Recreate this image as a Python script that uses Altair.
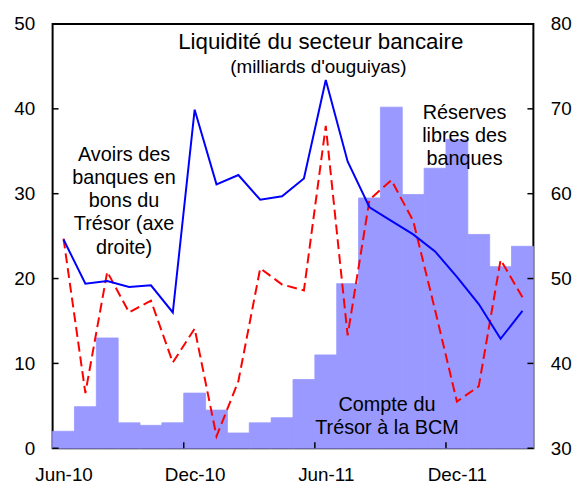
import altair as alt
import pandas as pd

# ---- data ----
months = ['Jun-10', 'Jul-10', 'Aug-10', 'Sep-10', 'Oct-10', 'Nov-10', 'Dec-10',
          'Jan-11', 'Feb-11', 'Mar-11', 'Apr-11', 'May-11', 'Jun-11', 'Jul-11',
          'Aug-11', 'Sep-11', 'Oct-11', 'Nov-11', 'Dec-11', 'Jan-12', 'Feb-12', 'Mar-12']
compte_tresor = [2.0, 4.9, 13.0, 3.0, 2.7, 3.0, 6.5, 4.5, 1.8, 3.0, 3.6, 8.1,
                 11.0, 19.4, 29.5, 40.2, 29.9, 33.0, 36.4, 25.2, 21.4, 23.8]
reserves_libres = [24.7, 6.5, 20.8, 16.0, 17.4, 10.1, 14.1, 1.4, 7.9, 21.2, 19.3, 18.6,
                   38.0, 13.3, 29.3, 31.6, 26.8, 16.3, 5.5, 7.3, 22.2, 17.8]
avoirs_bons = [54.6, 49.4, 49.7, 49.0, 49.2, 46.0, 69.9, 61.1, 62.2, 59.3, 59.7, 61.8,
               73.4, 63.8, 58.4, 56.8, 55.2, 53.2, 50.2, 47.0, 42.9, 46.2]
tick_labels = ['Jun-10', 'Dec-10', 'Jun-11', 'Dec-11']
left_ticks = [0, 10, 20, 30, 40, 50]
right_ticks = [30, 40, 50, 60, 70, 80]

df = pd.DataFrame({
    'i': list(range(len(months))),
    'month': months,
    'compte': compte_tresor,
    'reserves': reserves_libres,
    'avoirs': avoirs_bons,
})

W, H = 485, 428
FONT = 'Liberation Sans'
BAR = '#9999FF'

label_positions = [months.index(m) for m in tick_labels]
label_expr = '[' + ','.join("'%s'" % t for t in tick_labels) + '][datum.value/6]'
xs = alt.Scale(domain=[-0.5, len(months) - 0.5], nice=False, zero=False)
xaxis = alt.Axis(values=label_positions, labelExpr=label_expr, ticks=False, domain=False,
                 grid=False, title=None, labelFont=FONT, labelFontSize=19,
                 labelColor='black', labelPadding=18)
ysL = alt.Scale(domain=[0, 50], nice=False, zero=False)
yaxisL = alt.Axis(values=left_ticks, ticks=False, domain=False, grid=False, title=None,
                  labelFont=FONT, labelFontSize=19, labelColor='black', labelPadding=18)
ysR = alt.Scale(domain=[30, 80], nice=False, zero=False)
yaxisR = alt.Axis(orient='right', values=right_ticks, ticks=False, domain=False, grid=False,
                  title=None, labelFont=FONT, labelFontSize=19, labelColor='black',
                  labelPadding=17)

bars = alt.Chart(df).transform_calculate(
    x0='datum.i - 0.5', x1='datum.i + 0.5'
).mark_rect(color=BAR, stroke=BAR, strokeWidth=0.8).encode(
    x=alt.X('x0:Q', scale=xs, axis=xaxis),
    x2='x1:Q',
    y=alt.Y('compte:Q', scale=ysL, axis=yaxisL),
    y2=alt.datum(0),
)

red = alt.Chart(df).mark_line(color='#FF0000', strokeWidth=2, strokeDash=[10, 5]).encode(
    x=alt.X('i:Q', scale=xs, axis=xaxis),
    y=alt.Y('reserves:Q', scale=ysL, axis=yaxisL),
)

# inward ticks
tk = pd.DataFrame({'v': left_ticks})
lt = alt.Chart(tk).mark_rule(color='black', strokeWidth=1.5).encode(
    y=alt.Y('v:Q', scale=ysL, axis=yaxisL), x=alt.value(0), x2=alt.value(6))
rt = alt.Chart(tk).mark_rule(color='black', strokeWidth=1.5).encode(
    y=alt.Y('v:Q', scale=ysL, axis=yaxisL), x=alt.value(W - 6), x2=alt.value(W))
bt = alt.Chart(pd.DataFrame({'t': [p - 0.5 for p in label_positions[1:]]})).mark_rule(
    color='black', strokeWidth=1.5).encode(
    x=alt.X('t:Q', scale=xs, axis=xaxis), y=alt.value(H), y2=alt.value(H - 6))

# text annotations (data coordinates)
def block(x, y0, lines, step):
    return pd.DataFrame({'x': [x] * len(lines),
                         'y': [y0 - k * step for k in range(len(lines))],
                         'text': lines})

ann = pd.concat([
    block(2.77, 33.9, ['Avoirs des', 'banques en', 'bons du', 'Trésor (axe', 'droite)'], 2.74),
    block(18.35, 38.8, ['Réserves', 'libres des', 'banques'], 2.70),
    block(14.8, 4.36, ['Compte du', 'Trésor à la BCM'], 2.73),
])

def text_layer(data, size):
    return alt.Chart(data).mark_text(font=FONT, fontSize=size, color='black',
                                     align='center', baseline='alphabetic').encode(
        x=alt.X('x:Q', scale=xs, axis=xaxis),
        y=alt.Y('y:Q', scale=ysL, axis=yaxisL),
        text='text:N')

texts = text_layer(ann, 20)
title = text_layer(pd.DataFrame({'x': [11.77], 'y': [47.1],
                                 'text': ['Liquidité du secteur bancaire']}), 22.5)
subtitle = text_layer(pd.DataFrame({'x': [11.66], 'y': [44.2],
                                    'text': ["(milliards d'ouguiyas)"]}), 19)

left = alt.layer(bars, red, lt, rt, bt, texts, title, subtitle)

blue = alt.Chart(df).mark_line(color='#0000FF', strokeWidth=2).encode(
    x=alt.X('i:Q', scale=xs, axis=xaxis),
    y=alt.Y('avoirs:Q', scale=ysR, axis=yaxisR),
)

chart = alt.layer(left, blue).resolve_scale(y='independent').properties(
    width=W, height=H, padding={'left': 5, 'top': 5, 'right': 5, 'bottom': 5}
).configure_view(stroke='black', strokeWidth=2)

chart.save('out.html', embed_options={'renderer': 'svg', 'actions': False})
